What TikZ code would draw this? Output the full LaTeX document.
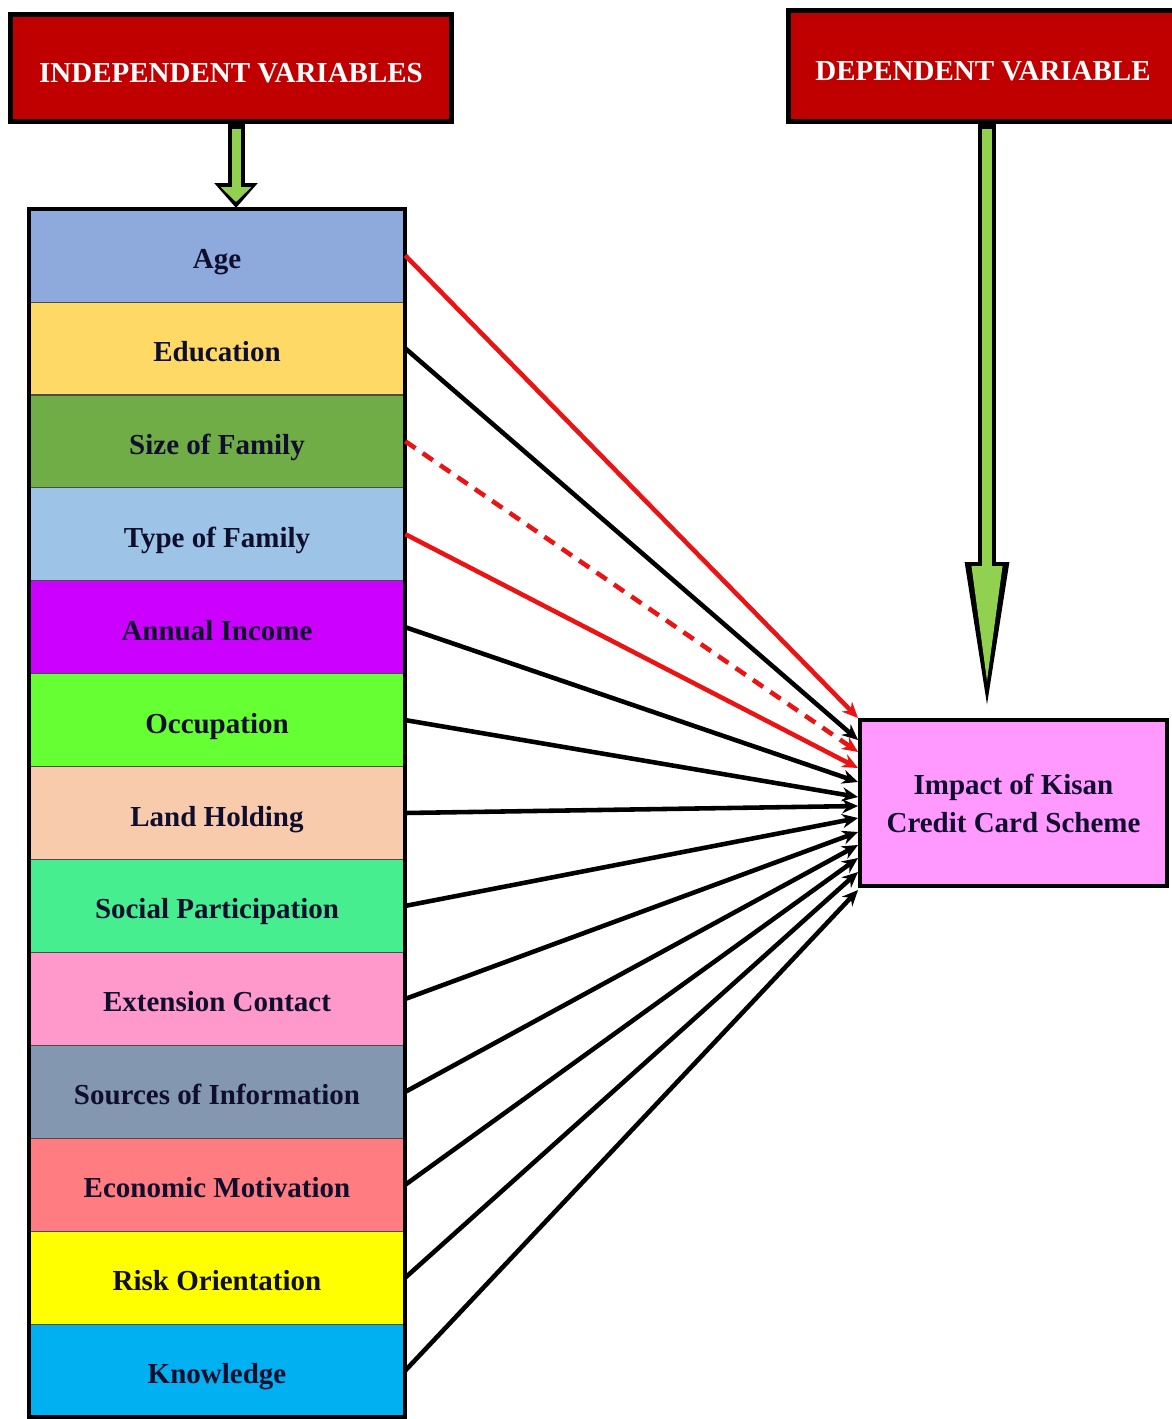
\documentclass[tikz,border=0pt]{standalone}
\usepackage{fontspec}
\setmainfont{Liberation Serif}
\usetikzlibrary{arrows.meta,calc}

\definecolor{hdred}{HTML}{C00000}
\definecolor{grn}{HTML}{92D050}
\definecolor{arrred}{RGB}{235,20,20}
\definecolor{inkdark}{RGB}{15,15,45}
\definecolor{impactfill}{HTML}{FF99FF}
\definecolor{cage}{HTML}{8EA9DB}
\definecolor{cedu}{HTML}{FFD966}
\definecolor{csize}{HTML}{70AD47}
\definecolor{ctype}{HTML}{9DC3E6}
\definecolor{cincome}{HTML}{CC00FF}
\definecolor{cocc}{HTML}{66FF33}
\definecolor{cland}{HTML}{F8CBAD}
\definecolor{csocial}{HTML}{47EE90}
\definecolor{cext}{HTML}{FF99CC}
\definecolor{csrc}{HTML}{8497B0}
\definecolor{cecon}{HTML}{FF7C80}
\definecolor{crisk}{HTML}{FFFF00}
\definecolor{cknow}{HTML}{00B0F0}

\begin{document}
\begin{tikzpicture}[x=0.02cm,y=-0.02cm,
    font=\fontsize{16.5}{21.6}\selectfont\bfseries,
    var/.style={draw=black!70, line width=0.4pt, minimum width=7.52cm,
      minimum height=1.858cm, text=inkdark, text height=18pt, text depth=3.2pt},
    head/.style={draw, line width=0.1cm, fill=hdred, text=white, text depth=0pt},
    link/.style={line width=2.6pt, -{Stealth[length=9pt,width=8pt]}},
    redlink/.style={link, draw=arrred}]
  \useasboundingbox (0,0) rectangle (1171,1419);

  % independent variables
  \node[var, fill=cage] (age) at (217,255.5) {Age};
  \node[var, fill=cedu] (edu) at (217,348.4) {Education};
  \node[var, fill=csize] (size) at (217,441.3) {Size of Family};
  \node[var, fill=ctype] (type) at (217,534.2) {Type of Family};
  \node[var, fill=cincome] (income) at (217,627.2) {Annual Income};
  \node[var, fill=cocc] (occ) at (217,720.1) {Occupation};
  \node[var, fill=cland] (land) at (217,813.0) {Land Holding};
  \node[var, fill=csocial] (social) at (217,905.9) {Social Participation};
  \node[var, fill=cext] (ext) at (217,998.9) {Extension Contact};
  \node[var, fill=csrc] (src) at (217,1091.8) {Sources of Information};
  \node[var, fill=cecon] (econ) at (217,1184.7) {Economic Motivation};
  \node[var, fill=crisk] (risk) at (217,1277.6) {Risk Orientation};
  \node[var, fill=cknow] (know) at (217,1370.5) {Knowledge};
  \draw[line width=0.08cm] (age.north west) rectangle (know.south east);

  % headers and dependent variable
  \node[head, text height=17pt, minimum width=8.84cm, minimum height=2.16cm] (indep)
    at (231,68) {INDEPENDENT VARIABLES};
  \node[head, text height=16pt, minimum width=7.8cm, minimum height=2.24cm] (dep)
    at (983,66) {DEPENDENT VARIABLE};
  \node[draw, line width=0.08cm, fill=impactfill, text=inkdark, align=center,
    minimum width=6.14cm, minimum height=3.32cm] (impact) at (1013.5,803)
    {Impact of Kisan\\Credit Card Scheme};

  % links
  \draw[redlink] (age.east) -- ($(impact.west)+(0,-85)$);
  \draw[link] (edu.east) -- ($(impact.west)+(0,-63)$);
  \draw[redlink, dash pattern=on 7pt off 5pt] (size.east) -- ($(impact.west)+(0,-51)$);
  \draw[redlink] (type.east) -- ($(impact.west)+(0,-35)$);
  \draw[link] (income.east) -- ($(impact.west)+(0,-21)$);
  \draw[link] (occ.east) -- ($(impact.west)+(0,-6)$);
  \draw[link] (land.east) -- ($(impact.west)+(0,3)$);
  \draw[link] (social.east) -- ($(impact.west)+(0,15)$);
  \draw[link] (ext.east) -- ($(impact.west)+(0,29)$);
  \draw[link] (src.east) -- ($(impact.west)+(0,42)$);
  \draw[link] (econ.east) -- ($(impact.west)+(0,55)$);
  \draw[link] (risk.east) -- ($(impact.west)+(0,69)$);
  \draw[link] (know.east) -- ($(impact.west)+(0,87)$);

  % green arrows
  \coordinate (tipL) at (236,208);
  \coordinate (tipR) at (987,720);
  \draw[line width=0.34cm, -{Triangle[width=0.84cm,length=0.5cm]}]
    ($(indep.south -| tipL)+(0,-3)$) -- (tipL);
  \draw[grn, line width=0.18cm, shorten >=0.12cm, -{Triangle[width=0.6cm,length=0.3cm]}]
    ($(indep.south -| tipL)+(0,5)$) -- (tipL);
  \draw[line width=0.36cm, -{Triangle[width=0.78cm,length=3.16cm]}]
    ($(dep.south -| tipR)+(0,-3)$) -- (tipR);
  \draw[grn, line width=0.2cm, shorten >=0.66cm, -{Triangle[width=0.56cm,length=2.42cm]}]
    ($(dep.south -| tipR)+(0,5)$) -- (tipR);
\end{tikzpicture}
\end{document}
